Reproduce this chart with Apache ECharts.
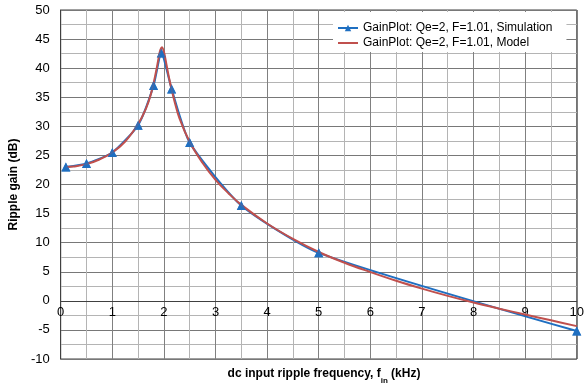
<!DOCTYPE html>
<html>
<head>
<meta charset="utf-8">
<script src="https://cdn.jsdelivr.net/npm/echarts@6/dist/echarts.min.js"></script>
<style>html,body{margin:0;padding:0;background:#fff}#c{width:587px;height:385px}</style>
</head>
<body>
<div id="c"></div>
<script>
const simName = 'GainPlot: Qe=2, F=1.01, Simulation';
const modelName = 'GainPlot: Qe=2, F=1.01, Model';
const xSim = [0.1, 0.5, 1.0, 1.5, 1.8, 1.95, 2.15, 2.5, 3.5, 5.0, 10.0];
const ySim = [23.0, 23.6, 25.5, 30.2, 37.0, 42.6, 36.4, 27.2, 16.4, 8.25, -5.2];
const xModel = [0.1, 0.25, 0.5, 0.75, 1.0, 1.25, 1.5, 1.65, 1.75, 1.85, 1.9, 1.93, 1.96, 2.0, 2.05, 2.1, 2.15, 2.2, 2.3, 2.5, 2.75, 3.0, 3.25, 3.5, 4.0, 4.5, 5.0, 5.5, 6.0, 6.5, 7.0, 7.5, 8.0, 8.5, 9.0, 9.5, 10.0];
const yModel = [23.0, 23.1, 23.5, 24.3, 25.5, 27.4, 30.4, 33.0, 35.6, 39.5, 41.9, 43.1, 43.6, 42.8, 40.6, 38.3, 36.3, 34.5, 31.4, 27.3, 23.7, 20.8, 18.5, 16.5, 13.3, 10.65, 8.4, 6.55, 4.95, 3.45, 2.1, 0.85, -0.3, -1.35, -2.35, -3.35, -4.35];
// min, max, gridline interval (major + minor), labelled (major) step
const xTicks = [0, 10, 0.5, 1];
const yTicks = [-10, 50, 2.5, 5];

const font = 'Liberation Sans, Arial, sans-serif';
const blue = '#1f6fc1';
const red = '#c0504d';
const pair = (xs, ys) => xs.map((x, i) => [x, ys[i]]);
const isMajor = (v, step) => Math.abs(v / step - Math.round(v / step)) < 1e-6;

const W = 587, H = 385;
const gridL = 60, gridR = 9, gridT = 10, gridB = 26;
const gridH = H - gridT - gridB;
// move the x axis (line + labels) to y = 0
const xAxisOffset = -gridH * (0 - yTicks[0]) / (yTicks[1] - yTicks[0]);

// alternating colours: major gridline, then minor gridline
const xGridColors = ['#808080', '#b4b4b4'];
const yGridColors = ['#787878', '#b4b4b4'];

const chart = echarts.init(document.getElementById('c'));
chart.setOption({
  animation: false,
  backgroundColor: '#fff',
  grid: { left: gridL, right: gridR, top: gridT, bottom: gridB, show: true, borderColor: '#404040', borderWidth: 1, backgroundColor: 'transparent' },
  title: {
    text: '{b|dc input ripple frequency, f}{s|in}{b| (kHz)}',
    left: (gridL + W - gridR) / 2, textAlign: 'center', top: 362,
    textStyle: { rich: {
      b: { fontFamily: font, fontWeight: 'bold', fontSize: 12, color: '#000', lineHeight: 14 },
      s: { fontFamily: font, fontWeight: 'bold', fontSize: 8, color: '#000', lineHeight: 14, verticalAlign: 'bottom', padding: [0, 0, -4, 0] }
    } }
  },
  legend: {
    orient: 'vertical', left: 333, top: 12, z: 10,
    padding: [9, 14, 2, 4], itemGap: 1, itemWidth: 20, itemHeight: 8,
    backgroundColor: '#fff',
    data: [
      { name: simName },
      { name: modelName, itemStyle: { opacity: 0 } }
    ],
    textStyle: { fontFamily: font, fontSize: 12, color: '#000', lineHeight: 14 }
  },
  xAxis: {
    type: 'value', min: xTicks[0], max: xTicks[1], interval: xTicks[2],
    offset: xAxisOffset,
    axisLine: { show: true, onZero: false, lineStyle: { color: '#404040', width: 1 } },
    axisTick: { show: false },
    axisLabel: { fontFamily: font, fontSize: 13, color: '#000', margin: 5,
      formatter: v => isMajor(v, xTicks[3]) ? String(v) : '' },
    splitLine: { show: true, lineStyle: { color: xGridColors, width: 1 } }
  },
  yAxis: {
    type: 'value', min: yTicks[0], max: yTicks[1], interval: yTicks[2],
    name: 'Ripple gain (dB)', nameLocation: 'middle', nameGap: 40, nameRotate: 90,
    nameTextStyle: { fontFamily: font, fontWeight: 'bold', fontSize: 12, color: '#000' },
    axisLine: { show: true, onZero: false, lineStyle: { color: '#404040', width: 1 } },
    axisTick: { show: false },
    axisLabel: { fontFamily: font, fontSize: 13, color: '#000', margin: 11,
      formatter: v => isMajor(v, yTicks[3]) ? String(v) : '' },
    splitLine: { show: true, lineStyle: { color: yGridColors, width: 1 } }
  },
  series: [
    {
      name: simName, type: 'line', data: pair(xSim, ySim), z: 2,
      smooth: 0.2,
      symbol: 'triangle', symbolSize: 9, showSymbol: true,
      lineStyle: { color: blue, width: 2 }, itemStyle: { color: blue }
    },
    {
      name: modelName, type: 'line', data: pair(xModel, yModel), z: 3,
      smooth: 0.4, symbol: 'none',
      lineStyle: { color: red, width: 2 }, itemStyle: { color: red }
    },
    {
      name: 'simMarkers', type: 'scatter', data: pair(xSim, ySim), z: 4, silent: true,
      symbol: 'triangle', symbolSize: 9, itemStyle: { color: blue }
    }
  ]
});
</script>
</body>
</html>
